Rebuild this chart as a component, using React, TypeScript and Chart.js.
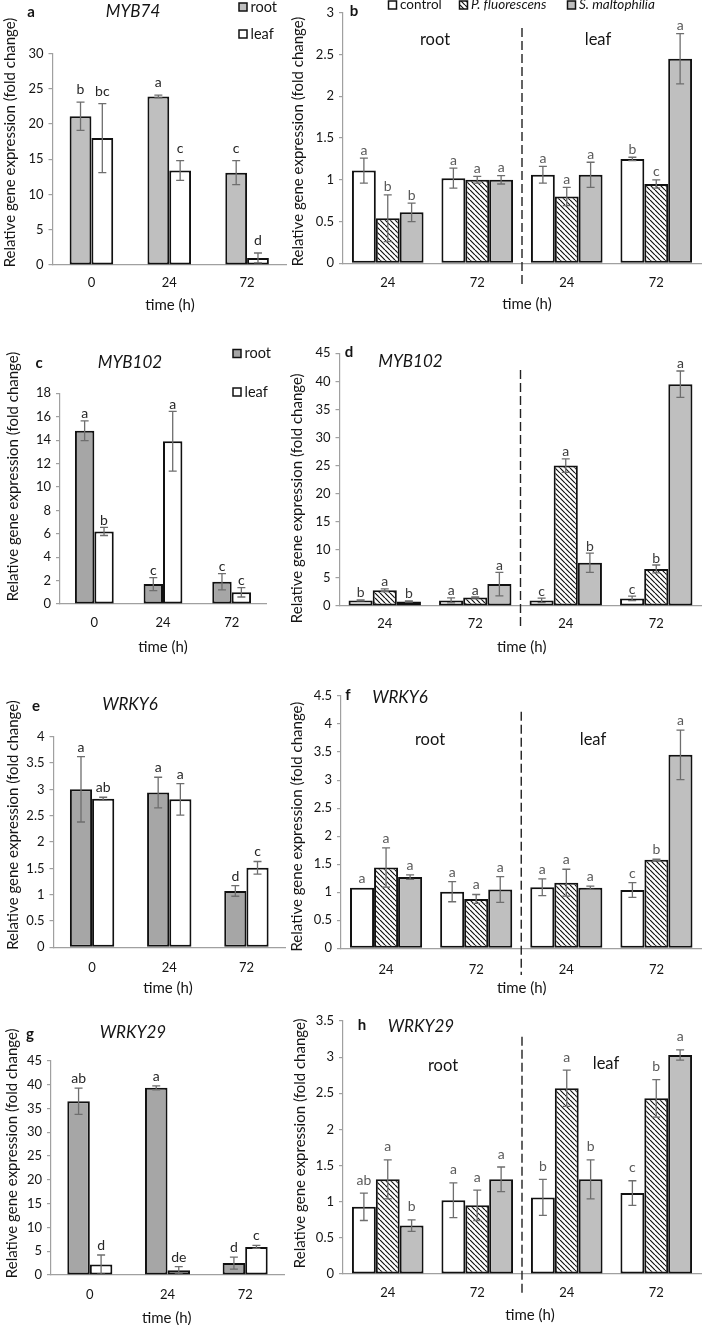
import React, { useEffect, useRef } from "react";
import { Chart, registerables } from "chart.js";

Chart.register(...registerables);

const FONT = "Lato, 'Open Sans', sans-serif";

// ---------- shared labels ----------
const timesA = ["0", "24", "72"];
const timesB = ["24", "72", "24", "72"];
const tissueNames = ["root", "leaf"];
const treatNames = ["control", "P. fluorescens", "S. maltophilia"];
const yTitleText = "Relative gene expression (fold change)";
const xTitleText = "time (h)";

// ---------- a: MYB74, tissue over time ----------
const aRoot = [21.1, 23.9, 13.1];
const aRootErr = [2.0, 0.2, 1.7];
const aRootLetters = ["b", "a", "c"];
const aLeaf = [18.0, 13.4, 1.0];
const aLeafErr = [4.9, 1.4, 0.7];
const aLeafLetters = ["bc", "c", "d"];

// ---------- b: MYB74 by treatment (root 24, root 72, leaf 24, leaf 72) ----------
const bControl = [1.11, 1.02, 1.06, 1.25];
const bControlErr = [0.15, 0.12, 0.1, 0.02];
const bControlLetters = ["a", "a", "a", "b"];
const bPf = [0.54, 1.0, 0.8, 0.95];
const bPfErr = [0.28, 0.04, 0.11, 0.05];
const bPfLetters = ["b", "a", "a", "c"];
const bSm = [0.61, 1.0, 1.06, 2.45];
const bSmErr = [0.11, 0.05, 0.15, 0.3];
const bSmLetters = ["b", "a", "a", "a"];

// ---------- c: MYB102 tissue ----------
const cRoot = [14.8, 1.7, 1.9];
const cRootErr = [0.85, 0.55, 0.7];
const cRootLetters = ["a", "c", "c"];
const cLeaf = [6.2, 13.9, 1.0];
const cLeafErr = [0.35, 2.55, 0.4];
const cLeafLetters = ["b", "a", "c"];

// ---------- d: MYB102 treatment ----------
const dControl = [1.0, 1.0, 1.0, 1.35];
const dControlErr = [0.1, 0.45, 0.4, 0.4];
const dControlLetters = ["b", "a", "c", "c"];
const dPf = [2.8, 1.5, 25.0, 6.6];
const dPfErr = [0.25, 0.1, 1.2, 0.7];
const dPfLetters = ["a", "a", "a", "b"];
const dSm = [0.8, 3.9, 7.7, 39.5];
const dSmErr = [0.1, 2.1, 1.7, 2.35];
const dSmLetters = ["b", "a", "b", "a"];

// ---------- e: WRKY6 tissue ----------
const eRoot = [3.0, 2.94, 1.07];
const eRootErr = [0.62, 0.29, 0.1];
const eRootLetters = ["a", "a", "d"];
const eLeaf = [2.82, 2.81, 1.51];
const eLeafErr = [0.03, 0.3, 0.12];
const eLeafLetters = ["ab", "a", "c"];

// ---------- f: WRKY6 treatment ----------
const fControl = [1.08, 1.01, 1.09, 1.04];
const fControlErr = [0, 0.18, 0.15, 0.13];
const fControlLetters = ["a", "a", "a", "c"];
const fPf = [1.44, 0.88, 1.17, 1.58];
const fPfErr = [0.35, 0.08, 0.24, 0.01];
const fPfLetters = ["a", "a", "a", "b"];
const fSm = [1.27, 1.05, 1.08, 3.45];
const fSmErr = [0.04, 0.23, 0.03, 0.44];
const fSmLetters = ["a", "a", "a", "a"];

// ---------- g: WRKY29 tissue ----------
const gRoot = [36.5, 39.3, 2.5];
const gRootErr = [2.75, 0.4, 1.25];
const gRootLetters = ["ab", "a", "d"];
const gLeaf = [2.2, 1.0, 5.9];
const gLeafErr = [2.0, 0.75, 0.3];
const gLeafLetters = ["d", "de", "c"];

// ---------- h: WRKY29 treatment ----------
const hControl = [0.93, 1.02, 1.06, 1.12];
const hControlErr = [0.19, 0.24, 0.25, 0.17];
const hControlLetters = ["ab", "a", "b", "c"];
const hPf = [1.31, 0.95, 2.57, 2.43];
const hPfErr = [0.27, 0.21, 0.25, 0.26];
const hPfLetters = ["a", "a", "a", "b"];
const hSm = [0.67, 1.31, 1.31, 3.03];
const hSmErr = [0.08, 0.17, 0.27, 0.07];
const hSmLetters = ["b", "a", "b", "a"];

// ---------- types ----------
type Txt = { t: string; x: number; y: number; font: string; color?: string; align?: CanvasTextAlign; rot?: boolean };
type SeriesCfg = { label: string; data: number[]; err: number[]; letters: string[]; fill: string };
type LegendItem = { x: number; y: number; s: number; italic?: boolean; size: number };
type PanelCfg = {
  box: { x: number; y: number; w: number; h: number };
  area: { l: number; t: number; r: number; b: number };
  labels: string[];
  yMax: number;
  step: number;
  series: SeriesCfg[];
  barPct: number;
  letterGap: number;
  letterColor: string;
  xPad: number;
  texts: Txt[];
  dashed?: { y1: number; y2: number };
  legend?: LegendItem[];
};

const TXT = "#141414";
const AXIS = "#a0a0a0";
const ERR = "#6e6e6e";
const TICK_SIZE = 13;
const fBold = `bold 15px ${FONT}`;
const fGene = `italic 17px ${FONT}`;
const fTitle = `15px ${FONT}`;
const fSect = `16.5px ${FONT}`;
const fLetter = `14px ${FONT}`;

const ser = (label: string, data: number[], err: number[], letters: string[], fill: string): SeriesCfg => ({
  label,
  data,
  err,
  letters,
  fill,
});

function makeHatch(): CanvasPattern | string {
  const c = document.createElement("canvas");
  const s = 5;
  c.width = s;
  c.height = s;
  const g = c.getContext("2d");
  if (!g) return "#fff";
  g.fillStyle = "#fff";
  g.fillRect(0, 0, s, s);
  g.strokeStyle = "#111";
  g.lineWidth = 1.2;
  g.beginPath();
  for (const k of [-s, 0, s]) {
    g.moveTo(k, 0);
    g.lineTo(k + s, s);
  }
  g.stroke();
  return g.createPattern(c, "repeat") || "#fff";
}

function drawTxt(ctx: CanvasRenderingContext2D, t: Txt, ox: number, oy: number) {
  ctx.save();
  ctx.font = t.font;
  ctx.fillStyle = t.color || TXT;
  ctx.textAlign = t.align || "center";
  ctx.textBaseline = "middle";
  ctx.translate(t.x - ox, t.y - oy);
  if (t.rot) ctx.rotate(-Math.PI / 2);
  ctx.fillText(t.t, 0, 0);
  ctx.restore();
}

function buildConfig(p: PanelCfg): any {
  const hatch = makeHatch();
  const fillOf = (f: string) => (f === "hatch" ? hatch : f);
  const ox = p.box.x;
  const oy = p.box.y;
  const decor = {
    id: "decor",
    afterDatasetsDraw(chart: any) {
      const ctx: CanvasRenderingContext2D = chart.ctx;
      const ys = chart.scales.y;
      p.series.forEach((s, i) => {
        const meta = chart.getDatasetMeta(i);
        meta.data.forEach((bar: any, j: number) => {
          const v = s.data[j];
          const e = s.err[j];
          const x = bar.x;
          const top = ys.getPixelForValue(v + e);
          if (e > 0) {
            const bot = ys.getPixelForValue(Math.max(0, v - e));
            ctx.save();
            ctx.strokeStyle = ERR;
            ctx.lineWidth = 1.3;
            ctx.beginPath();
            ctx.moveTo(x, top);
            ctx.lineTo(x, bot);
            ctx.moveTo(x - 4, top);
            ctx.lineTo(x + 4, top);
            ctx.moveTo(x - 4, bot);
            ctx.lineTo(x + 4, bot);
            ctx.stroke();
            ctx.restore();
          }
          ctx.save();
          ctx.font = fLetter;
          ctx.fillStyle = p.letterColor;
          ctx.textAlign = "center";
          ctx.textBaseline = "alphabetic";
          ctx.fillText(s.letters[j], x, top - p.letterGap);
          ctx.restore();
        });
      });
    },
    afterDraw(chart: any) {
      const ctx: CanvasRenderingContext2D = chart.ctx;
      const xs = chart.scales.x;
      if (p.dashed) {
        const xm = (xs.getPixelForValue(1) + xs.getPixelForValue(2)) / 2;
        ctx.save();
        ctx.strokeStyle = "#222";
        ctx.lineWidth = 1.4;
        ctx.setLineDash([9, 4]);
        ctx.beginPath();
        ctx.moveTo(xm, p.dashed.y1 - oy);
        ctx.lineTo(xm, p.dashed.y2 - oy);
        ctx.stroke();
        ctx.restore();
      }
      p.texts.forEach((t) => drawTxt(ctx, t, ox, oy));
      (p.legend || []).forEach((it) => {
        const s = p.series[it.s];
        const bx = it.x - ox;
        const by = it.y - oy;
        ctx.save();
        ctx.fillStyle = fillOf(s.fill) as any;
        ctx.fillRect(bx - 4, by - 4, 8, 8);
        ctx.strokeStyle = "#111";
        ctx.lineWidth = 1.5;
        ctx.strokeRect(bx - 4, by - 4, 8, 8);
        ctx.font = `${it.italic ? "italic " : ""}${it.size}px ${FONT}`;
        ctx.fillStyle = TXT;
        ctx.textAlign = "left";
        ctx.textBaseline = "middle";
        ctx.fillText(s.label, bx + 7.5, by);
        ctx.restore();
      });
    },
  };
  const yw = p.area.l - p.box.x;
  const xh = p.box.y + p.box.h - p.area.b;
  return {
    type: "bar",
    data: {
      labels: p.labels,
      datasets: p.series.map((s) => ({
        label: s.label,
        data: s.data,
        backgroundColor: fillOf(s.fill),
        borderColor: "#111",
        borderWidth: 2,
        borderSkipped: false,
        barPercentage: 1,
        categoryPercentage: p.barPct,
      })),
    },
    options: {
      responsive: false,
      animation: false,
      devicePixelRatio: 1,
      layout: {
        padding: {
          left: 0,
          top: p.area.t - p.box.y,
          right: p.box.x + p.box.w - p.area.r,
          bottom: 0,
        },
      },
      plugins: { legend: { display: false }, tooltip: { enabled: false }, title: { display: false } },
      scales: {
        x: {
          type: "category",
          ticks: { font: { family: FONT, size: TICK_SIZE }, color: TXT, padding: p.xPad, maxRotation: 0 },
          grid: { display: false, drawTicks: false },
          border: { color: AXIS, width: 1.2 },
          afterFit: (s: any) => {
            s.height = xh;
          },
        },
        y: {
          min: 0,
          max: p.yMax,
          ticks: {
            stepSize: p.step,
            font: { family: FONT, size: TICK_SIZE },
            color: TXT,
            padding: 5,
            callback: (v: any) => String(Math.round(Number(v) * 100) / 100),
          },
          grid: { drawOnChartArea: false, drawTicks: true, tickLength: 4, color: AXIS, lineWidth: 1.2 },
          border: { color: AXIS, width: 1.2 },
          afterFit: (s: any) => {
            s.width = yw;
          },
        },
      },
    },
    plugins: [decor],
  };
}

const ROOT_A = "#bfbfbf";
const ROOT_D = "#a6a6a6";
const SM = "#bfbfbf";

const commonTexts = (
  letter: string, lx: number, ly: number,
  gene: string, gx: number, gy: number,
  ytx: number, yty: number,
  tx: number, ty: number
): Txt[] => [
  { t: letter, x: lx, y: ly, font: fBold },
  { t: gene, x: gx, y: gy, font: fGene },
  { t: yTitleText, x: ytx, y: yty, font: fTitle, rot: true },
  { t: xTitleText, x: tx, y: ty, font: fTitle },
];

const panels: PanelCfg[] = [
  {
    box: { x: 0, y: 0, w: 290, h: 318 },
    area: { l: 52.5, t: 53.5, r: 286, b: 265 },
    labels: timesA,
    yMax: 30,
    step: 5,
    series: [
      ser(tissueNames[0], aRoot, aRootErr, aRootLetters, ROOT_A),
      ser(tissueNames[1], aLeaf, aLeafErr, aLeafLetters, "#ffffff"),
    ],
    barPct: 0.56,
    letterGap: 8,
    letterColor: "#262626",
    xPad: 10,
    texts: commonTexts("a", 31, 12, "MYB74", 133, 12, 10, 142.5, 170, 305),
    legend: [
      { x: 243, y: 7, s: 0, size: 14.5 },
      { x: 243, y: 34, s: 1, size: 14.5 },
    ],
  },
  {
    box: { x: 290, y: 0, w: 412, h: 318 },
    area: { l: 343, t: 11.7, r: 701, b: 263.3 },
    labels: timesB,
    yMax: 3,
    step: 0.5,
    series: [
      ser(treatNames[0], bControl, bControlErr, bControlLetters, "#ffffff"),
      ser(treatNames[1], bPf, bPfErr, bPfLetters, "hatch"),
      ser(treatNames[2], bSm, bSmErr, bSmLetters, SM),
    ],
    barPct: 0.8,
    letterGap: 3.5,
    letterColor: "#5a5a5a",
    xPad: 12,
    texts: [
      { t: "b", x: 354, y: 11, font: fBold },
      { t: "root", x: 435, y: 40, font: fSect },
      { t: "leaf", x: 598, y: 40, font: fSect },
      { t: yTitleText, x: 298.5, y: 141.5, font: fTitle, rot: true },
      { t: xTitleText, x: 527, y: 304, font: fTitle },
    ],
    dashed: { y1: 28, y2: 287 },
    legend: [
      { x: 392.5, y: 5, s: 0, size: 13.5 },
      { x: 463.5, y: 5, s: 1, italic: true, size: 13.5 },
      { x: 571.5, y: 5, s: 2, italic: true, size: 13.5 },
    ],
  },
  {
    box: { x: 0, y: 318, w: 290, h: 337 },
    area: { l: 60, t: 393.3, r: 266, b: 604 },
    labels: timesA,
    yMax: 18,
    step: 2,
    series: [
      ser(tissueNames[0], cRoot, cRootErr, cRootLetters, ROOT_D),
      ser(tissueNames[1], cLeaf, cLeafErr, cLeafLetters, "#ffffff"),
    ],
    barPct: 0.565,
    letterGap: 2.5,
    letterColor: "#262626",
    xPad: 11,
    texts: commonTexts("c", 39, 363, "MYB102", 130, 362.7, 13, 476.5, 163, 646.7),
    legend: [
      { x: 237, y: 353.5, s: 0, size: 14.5 },
      { x: 237, y: 392, s: 1, size: 14.5 },
    ],
  },
  {
    box: { x: 290, y: 318, w: 412, h: 337 },
    area: { l: 339.5, t: 353.3, r: 701.5, b: 606 },
    labels: timesB,
    yMax: 45,
    step: 5,
    series: [
      ser(treatNames[0], dControl, dControlErr, dControlLetters, "#ffffff"),
      ser(treatNames[1], dPf, dPfErr, dPfLetters, "hatch"),
      ser(treatNames[2], dSm, dSmErr, dSmLetters, SM),
    ],
    barPct: 0.8,
    letterGap: 2.5,
    letterColor: "#3a3a3a",
    xPad: 10,
    texts: commonTexts("d", 349, 352, "MYB102", 410.5, 361.7, 297, 498.3, 521.7, 646.7),
    dashed: { y1: 370, y2: 630 },
  },
  {
    box: { x: 0, y: 655, w: 290, h: 345 },
    area: { l: 53.5, t: 736.7, r: 285, b: 947.3 },
    labels: timesA,
    yMax: 4,
    step: 0.5,
    series: [
      ser(tissueNames[0], eRoot, eRootErr, eRootLetters, ROOT_D),
      ser(tissueNames[1], eLeaf, eLeafErr, eLeafLetters, "#ffffff"),
    ],
    barPct: 0.575,
    letterGap: 5,
    letterColor: "#262626",
    xPad: 13,
    texts: commonTexts("e", 36, 706, "WRKY6", 130, 705, 13, 825, 168, 988),
  },
  {
    box: { x: 290, y: 655, w: 412, h: 345 },
    area: { l: 341, t: 696, r: 701.5, b: 948.3 },
    labels: timesB,
    yMax: 4.5,
    step: 0.5,
    series: [
      ser(treatNames[0], fControl, fControlErr, fControlLetters, "#ffffff"),
      ser(treatNames[1], fPf, fPfErr, fPfLetters, "hatch"),
      ser(treatNames[2], fSm, fSmErr, fSmLetters, SM),
    ],
    barPct: 0.8,
    letterGap: 5,
    letterColor: "#5a5a5a",
    xPad: 14,
    texts: [
      { t: "f", x: 348, y: 695, font: fBold },
      { t: "WRKY6", x: 400, y: 698, font: fGene },
      { t: "root", x: 430, y: 740, font: fSect },
      { t: "leaf", x: 593, y: 740, font: fSect },
      { t: yTitleText, x: 297.3, y: 826.7, font: fTitle, rot: true },
      { t: xTitleText, x: 521.7, y: 988.3, font: fTitle },
    ],
    dashed: { y1: 711.7, y2: 975 },
  },
  {
    box: { x: 0, y: 1000, w: 290, h: 325 },
    area: { l: 51, t: 1060.7, r: 284, b: 1275 },
    labels: timesA,
    yMax: 45,
    step: 5,
    series: [
      ser(tissueNames[0], gRoot, gRootErr, gRootLetters, ROOT_D),
      ser(tissueNames[1], gLeaf, gLeafErr, gLeafLetters, "#ffffff"),
    ],
    barPct: 0.58,
    letterGap: 5,
    letterColor: "#262626",
    xPad: 12,
    texts: commonTexts("g", 30, 1034, "WRKY29", 133, 1033, 12, 1153.3, 166.7, 1318.3),
  },
  {
    box: { x: 290, y: 1000, w: 412, h: 325 },
    area: { l: 343, t: 1021, r: 701, b: 1274 },
    labels: timesB,
    yMax: 3.5,
    step: 0.5,
    series: [
      ser(treatNames[0], hControl, hControlErr, hControlLetters, "#ffffff"),
      ser(treatNames[1], hPf, hPfErr, hPfLetters, "hatch"),
      ser(treatNames[2], hSm, hSmErr, hSmLetters, SM),
    ],
    barPct: 0.8,
    letterGap: 8.5,
    letterColor: "#5a5a5a",
    xPad: 11,
    texts: [
      { t: "h", x: 362, y: 1025, font: fBold },
      { t: "WRKY29", x: 421, y: 1026.7, font: fGene },
      { t: "root", x: 443, y: 1066, font: fSect },
      { t: "leaf", x: 606, y: 1064, font: fSect },
      { t: yTitleText, x: 300, y: 1143.3, font: fTitle, rot: true },
      { t: xTitleText, x: 530, y: 1315, font: fTitle },
    ],
    dashed: { y1: 1036.7, y2: 1296.7 },
  },
];

function Panel({ cfg }: { cfg: PanelCfg }) {
  const ref = useRef<HTMLCanvasElement | null>(null);
  useEffect(() => {
    if (!ref.current) return;
    const chart = new Chart(ref.current, buildConfig(cfg));
    return () => chart.destroy();
  }, [cfg]);
  return (
    <canvas
      ref={ref}
      width={cfg.box.w}
      height={cfg.box.h}
      style={{ position: "absolute", left: cfg.box.x, top: cfg.box.y, width: cfg.box.w, height: cfg.box.h }}
    />
  );
}

export default function App() {
  return (
    <div style={{ position: "absolute", left: 0, top: 0, width: 702, height: 1325, background: "#ffffff", overflow: "hidden" }}>
      {panels.map((p, i) => (
        <Panel key={i} cfg={p} />
      ))}
    </div>
  );
}
